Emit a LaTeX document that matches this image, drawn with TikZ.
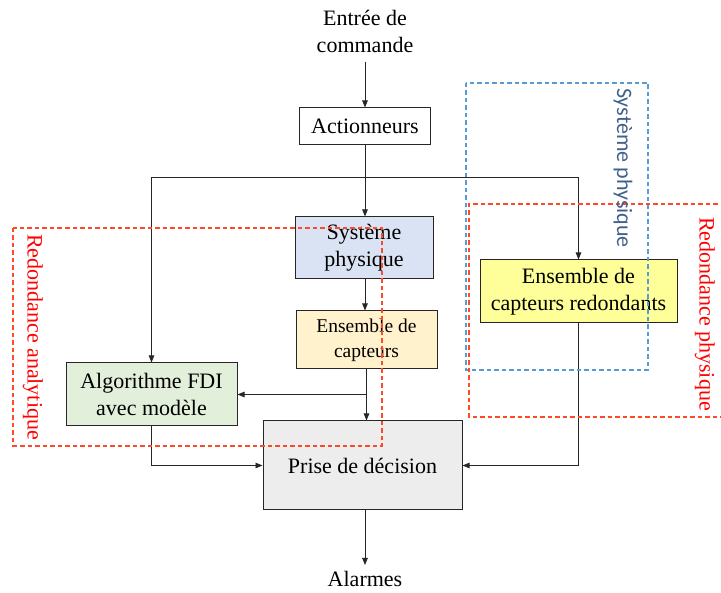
\documentclass[tikz,border=0pt]{standalone}
\usepackage{fontspec}
\setmainfont{Liberation Serif}
\newfontfamily\labelsans{Carlito}
\usetikzlibrary{arrows.meta,calc}
\definecolor{sysblue}{HTML}{DAE3F3}
\definecolor{capor}{HTML}{FFF2CC}
\definecolor{algogreen}{HTML}{E2EFDA}
\definecolor{prisegray}{HTML}{EDEDED}
\definecolor{redyellow}{HTML}{FFFF99}
\definecolor{dashred}{HTML}{FF4A2A}
\definecolor{dashblue}{HTML}{5B9BD5}
\definecolor{labblue}{RGB}{64,96,140}
\tikzset{
  blk/.style={draw=black!85, line width=1pt, align=center, inner sep=0pt,
    font=\fontsize{22}{27}\selectfont},
  txt/.style={align=center, inner sep=0pt, font=\fontsize{22}{27}\selectfont},
  conn/.style={draw=black!85, line width=0.8pt, -{Triangle[length=7pt,width=5.5pt]}},
  reddash/.style={draw=dashred, line width=1.2pt, dash pattern=on 4.5pt off 3pt},
  bluedash/.style={draw=dashblue, line width=1.2pt, dash pattern=on 4.5pt off 3pt},
}
\begin{document}
\begin{tikzpicture}[x=1pt,y=-1pt]
\useasboundingbox (0,0) rectangle (721,593);
% text nodes
\node[txt] (entree) at (365,31) {Entrée de\\commande};
\coordinate (estart) at (365,62);
\node[txt] (alarmes) at (365,579) {Alarmes};
\coordinate (aend) at (365,565);
% blocks
\node[blk, minimum width=131pt, minimum height=37pt] (act) at (365,126.5) {Actionneurs};
\node[blk, fill=sysblue, minimum width=138pt, minimum height=62pt] (sys) at (364,248) {Système\\physique};
\node[blk, fill=capor, minimum width=141pt, minimum height=58pt, font=\fontsize{19.5}{25}\selectfont] (cap) at (366.5,340) {Ensemble de\\capteurs};
\node[blk, fill=algogreen, minimum width=171pt, minimum height=63pt] (algo) at (151.5,394.5) {Algorithme FDI\\avec modèle};
\node[blk, fill=prisegray, minimum width=199pt, minimum height=89pt] (prise) at (362.5,465.5) {Prise de décision};
\node[blk, fill=redyellow, minimum width=197pt, minimum height=63pt] (red) at (578.5,291.5) {Ensemble de\\capteurs redondants};
% connectors
\coordinate (j) at (365,177);
\draw[conn] (estart) -- (estart |- act.north);
\draw[conn] (act.south) -- (act.south |- sys.north);
\draw[conn] (j) -| (algo.north);
\draw[conn] (j) -| (red.north);
\draw[conn] (act.south |- sys.south) -- (act.south |- cap.north);
\draw[conn] (cap.south) -- (cap.south |- prise.north);
\draw[conn] (cap.south |- algo.east) -- (algo.east);
\draw[conn] (algo.south) |- (prise.west);
\draw[conn] (red.south) |- (prise.east);
\draw[conn] (aend |- prise.south) -- (aend);
% dashed groups
\draw[reddash] (13,228) rectangle (382,446);
\draw[bluedash] (466,83) rectangle (648,370);
\draw[reddash] (725,204) -- (469,204) -- (469,417) -- (725,417);
% group labels
\node[txt, text=red, rotate=-90] (lra) at (33,337) {Redondance analytique};
\node[txt, text=red, rotate=-90] (lrp) at (705,314) {Redondance physique};
\node[inner sep=0pt, text=labblue, rotate=-90, font=\labelsans\fontsize{22}{26}\selectfont] (lsp) at (623,168) {Système physique};
\end{tikzpicture}
\end{document}
